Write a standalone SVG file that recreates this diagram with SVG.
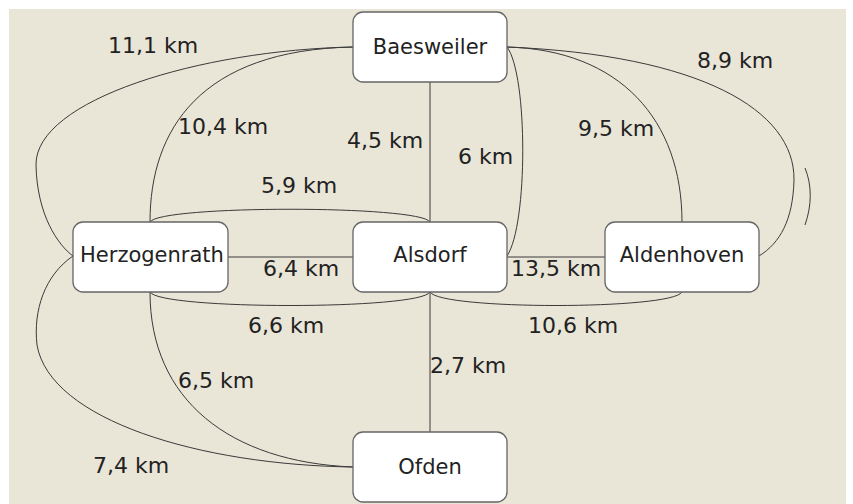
<svg xmlns="http://www.w3.org/2000/svg" width="853" height="504" viewBox="0 0 853 504">
<style>
.n rect{fill:#fff;stroke:#666;stroke-width:1.3}
.n text{font-family:"DejaVu Sans",sans-serif;font-size:21px;fill:#222;text-anchor:middle;dominant-baseline:central}
#edges path{fill:none;stroke:#3a3a3a;stroke-width:1}
.l{font-family:"DejaVu Sans",sans-serif;font-size:22px;fill:#222}
</style>
<rect x="0" y="0" width="853" height="504" fill="#fff"/>
<rect x="9" y="9" width="837" height="495" fill="#e9e5d7"/>
<g id="edges">
<path d="M430,82 V222"/>
<path d="M430,292 V432"/>
<path d="M228,257 H353"/>
<path d="M507,257 H605"/>
<path d="M150,222 C160,205 420,205 430,222"/>
<path d="M150,292 C160,310 420,310 430,292"/>
<path d="M430,292 C440,310 672,310 682,292"/>
<path d="M353,47 C200,50 150,130 150,222"/>
<path d="M353,47 C200,50 35,100 36,165 C37,215 58,245 73,256"/>
<path d="M73,256 C45,275 33,310 37,345 C50,420 200,465 353,467"/>
<path d="M150,292 C150,400 230,462 353,467"/>
<path d="M507,47 C528,75 528,225 507,256"/>
<path d="M507,47 C620,50 682,120 682,222"/>
<path d="M507,47 C700,55 795,110 794,180 C793,220 780,243 759,256"/>
<path d="M805,168 C812,185 812,205 805,225"/>
</g>
<g id="baesweiler" class="n"><rect x="353" y="12" width="154" height="70" rx="10"/><text x="430" y="47">Baesweiler</text></g>
<g id="herzogenrath" class="n"><rect x="73" y="222" width="155" height="70" rx="10"/><text x="152" y="255">Herzogenrath</text></g>
<g id="alsdorf" class="n"><rect x="353" y="222" width="154" height="70" rx="10"/><text x="430" y="255">Alsdorf</text></g>
<g id="aldenhoven" class="n"><rect x="605" y="222" width="154" height="70" rx="10"/><text x="682" y="255">Aldenhoven</text></g>
<g id="ofden" class="n"><rect x="353" y="432" width="154" height="70" rx="10"/><text x="430" y="467">Ofden</text></g>
<g id="labels">
<text class="l" x="108" y="53">11,1 km</text>
<text class="l" x="178" y="134">10,4 km</text>
<text class="l" x="347" y="148">4,5 km</text>
<text class="l" x="261" y="193">5,9 km</text>
<text class="l" x="458" y="164">6 km</text>
<text class="l" x="578" y="136">9,5 km</text>
<text class="l" x="697" y="68">8,9 km</text>
<text class="l" x="263" y="276">6,4 km</text>
<text class="l" x="511" y="276">13,5 km</text>
<text class="l" x="248" y="333">6,6 km</text>
<text class="l" x="528" y="333">10,6 km</text>
<text class="l" x="178" y="388">6,5 km</text>
<text class="l" x="430" y="373">2,7 km</text>
<text class="l" x="93" y="473">7,4 km</text>
</g>
</svg>
